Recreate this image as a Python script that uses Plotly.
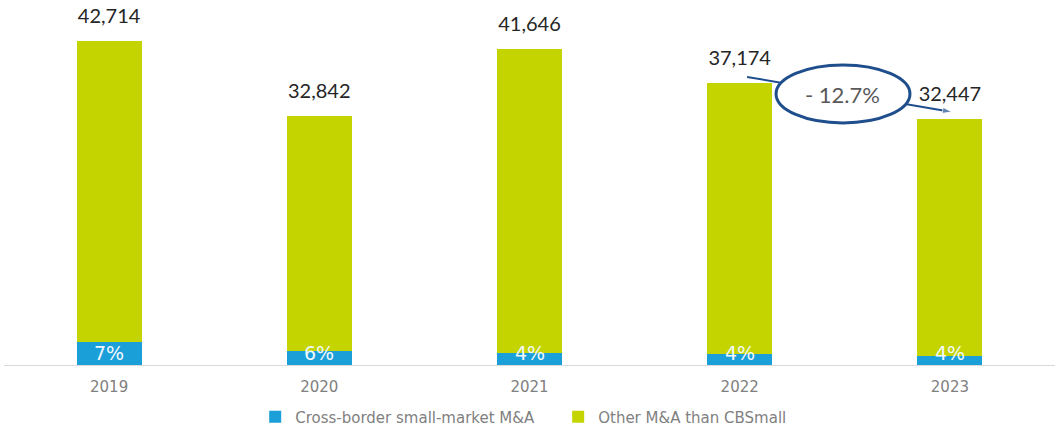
import plotly.graph_objects as go

# ---- data ----
years = ["2019", "2020", "2021", "2022", "2023"]
totals = [42714, 32842, 41646, 37174, 32447]
cross_border = [3050, 1900, 1550, 1450, 1200]
other = [39664, 30942, 40096, 35724, 31247]
pct_labels = ["7%", "6%", "4%", "4%", "4%"]
change_label = "- 12.7%"

BLUE = "#1b9fd8"
GREEN = "#c3d400"
NAVY = "#1f4e8c"

x = list(range(len(years)))

fig = go.Figure()
fig.add_trace(go.Bar(
    x=x, y=cross_border, name="Cross-border small-market M&A",
    marker=dict(color=BLUE, line=dict(width=0)), width=0.31,
    hoverinfo="skip",
))
fig.add_trace(go.Bar(
    x=x, y=other, name="Other M&A than CBSmall",
    marker=dict(color=GREEN, line=dict(width=0)), width=0.31,
    hoverinfo="skip",
))

# total value labels (in trace layer so the ellipse sits above them)
fig.add_trace(go.Scatter(
    x=x, y=totals, mode="markers+text",
    text=[f"{v:,}" for v in totals], textposition="top center",
    textfont=dict(family="Lato", size=20, color="#262626"),
    marker=dict(size=19, opacity=0),
    showlegend=False, hoverinfo="skip", cliponaxis=False,
))

# arrow from 2022 to 2023
fig.add_trace(go.Scatter(
    x=[x[3] + 0.035, x[4] + 0.01],
    y=[totals[3] + 830, totals[4] + 930],
    mode="lines+markers",
    line=dict(color=NAVY, width=2),
    marker=dict(symbol="arrow", angleref="previous", size=[0, 10], color=NAVY),
    showlegend=False, hoverinfo="skip", cliponaxis=False,
))

annotations = []
for i, p in enumerate(pct_labels):
    annotations.append(dict(
        x=x[i], y=0, xref="x", yref="y", text=p, showarrow=False,
        yanchor="middle", yshift=12,
        font=dict(family="DejaVu Sans", size=19, color="#f2f9fd"),
    ))
annotations.append(dict(
    x=x[3] + 0.49, y=35750, xref="x", yref="y", text=change_label,
    showarrow=False, font=dict(family="Lato", size=22, color="#595959"),
))

shapes = [dict(
    type="circle", xref="x", yref="y",
    x0=x[3] + 0.173, x1=x[3] + 0.81, y0=31926, y1=39578,
    fillcolor="white", line=dict(color=NAVY, width=3), layer="above",
)]

fig.update_layout(
    width=1057, height=428,
    margin=dict(l=4, r=2, t=0, b=63, autoexpand=False),
    barmode="stack",
    plot_bgcolor="white", paper_bgcolor="white",
    showlegend=True,
    legend=dict(
        orientation="h", x=0.239, xanchor="left", y=-52 / 365, yanchor="middle",
        font=dict(family="DejaVu Sans", size=15, color="#7f7f7f"),
        traceorder="normal", entrywidth=258, entrywidthmode="pixels",
    ),
    xaxis=dict(
        range=[-0.5, 4.5], tickvals=x, ticktext=years,
        showgrid=False, zeroline=False, showline=True, linecolor="#d9d9d9", linewidth=1,
        ticks="outside", ticklen=8, tickcolor="rgba(0,0,0,0)",
        tickfont=dict(family="DejaVu Sans", size=15, color="#808080"),
    ),
    yaxis=dict(range=[0, 48150], visible=False),
    annotations=annotations,
    shapes=shapes,
)

fig.write_html(
    "out.html",
    config={"displayModeBar": False},
    post_script="document.body.style.margin='0';document.body.style.overflow='hidden';",
)
